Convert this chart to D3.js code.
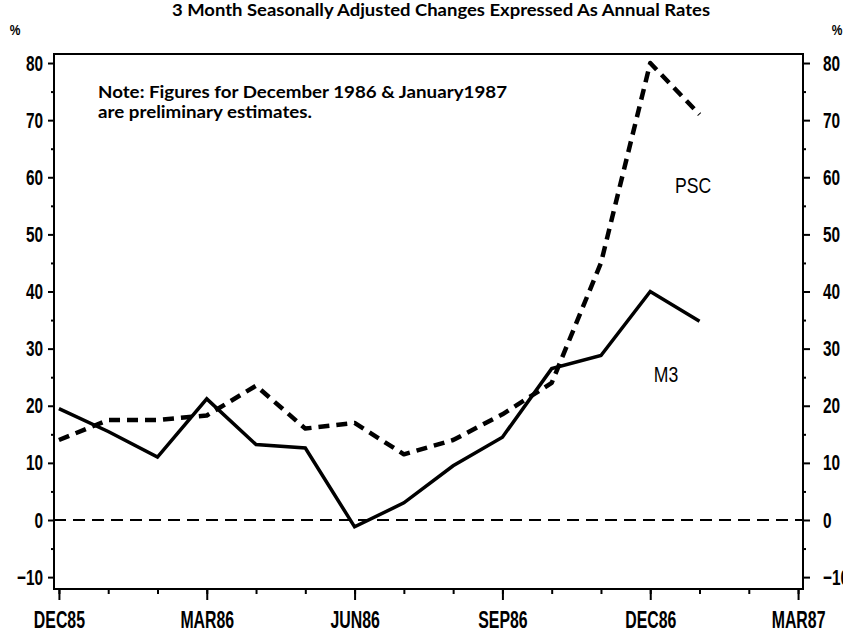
<!DOCTYPE html>
<html>
<head>
<meta charset="utf-8">
<style>
  body { margin: 0; background: #fff; }
  svg { display: block; }
  text { fill: #000; }
</style>
</head>
<body>
<div class="container"></div>
<script src="https://d3js.org/d3.v7.min.js"></script>
<script>
  // month labels, Dec 1985 .. Mar 1987
  var months = ['DEC85','JAN86','FEB86','MAR86','APR86','MAY86','JUN86','JUL86',
                'AUG86','SEP86','OCT86','NOV86','DEC86','JAN87','FEB87','MAR87'];
  var quarterIdx = [0, 3, 6, 9, 12, 15];
  var m3  = [19.5, 15.5, 11, 21.2, 13.2, 12.6, -1.2, 3, 9.5, 14.5, 26.5, 28.8, 40, 34.8];
  var psc = [14, 17.5, 17.5, 18.3, 23.5, 16, 17, 11.5, 14, 18.5, 24, 45, 80, 71];
  var yMajor = [-10, 0, 10, 20, 30, 40, 50, 60, 70, 80];
  var yMinor = [-5, 5, 15, 25, 35, 45, 55, 65, 75];

  var W = 843, H = 634,
      L = 54, R = 803, T = 54, B = 589;

  var svg = d3.select('.container').append('svg')
      .attr('width', W).attr('height', H);

  var x = d3.scaleLinear().domain([-0.1, 15.1]).range([L, R]);
  var y = d3.scaleLinear().domain([-12.08, 81.58]).range([B, T]);

  var font = "'Liberation Sans', Arial, sans-serif";
  var round = "Lato, 'DejaVu Sans', sans-serif";

  // squeeze a text horizontally around its own x
  function condense(sel, sx) {
    sel.each(function() {
      var t = d3.select(this);
      var x0 = +t.attr('x') || 0;
      t.attr('x', x0 / sx).attr('transform', 'scale(' + sx + ',1)');
    });
  }

  // title (top part is cut off in the original)
  svg.append('text')
      .attr('x', 441).attr('y', 16)
      .attr('text-anchor', 'middle')
      .style('font-family', round)
      .style('font-weight', 'bold')
      .style('font-size', '17px')
      .attr('textLength', 538).attr('lengthAdjust', 'spacingAndGlyphs')
      .text('3 Month Seasonally Adjusted Changes Expressed As Annual Rates');

  svg.append('text').attr('x', 15).attr('y', 35)
      .attr('text-anchor', 'middle')
      .style('font-family', font).style('font-weight', 'bold').style('font-size', '15px')
      .text('%').call(condense, 0.8);
  svg.append('text').attr('x', 837).attr('y', 35)
      .attr('text-anchor', 'middle')
      .style('font-family', font).style('font-weight', 'bold').style('font-size', '15px')
      .text('%').call(condense, 0.8);

  // left axis
  var gl = svg.append('g').attr('transform', 'translate(' + L + ',0)')
      .call(d3.axisLeft(y).tickValues(yMajor).tickSize(6).tickPadding(5).tickFormat(d3.format('d')));
  svg.append('g').attr('transform', 'translate(' + L + ',0)')
      .call(d3.axisLeft(y).tickValues(yMinor).tickSize(3).tickFormat(''));

  // right axis
  var gr = svg.append('g').attr('transform', 'translate(' + R + ',0)')
      .call(d3.axisRight(y).tickValues(yMajor).tickSize(7).tickPadding(13).tickFormat(d3.format('d')));
  svg.append('g').attr('transform', 'translate(' + R + ',0)')
      .call(d3.axisRight(y).tickValues(yMinor).tickSize(3).tickFormat(''));

  // bottom axis
  var gb = svg.append('g').attr('transform', 'translate(0,' + B + ')')
      .call(d3.axisBottom(x).tickValues(quarterIdx).tickSize(11).tickPadding(12)
        .tickFormat(function(d) { return months[d]; }));
  svg.append('g').attr('transform', 'translate(0,' + B + ')')
      .call(d3.axisBottom(x).tickValues(d3.range(months.length)).tickSize(5).tickFormat(''));

  svg.selectAll('.domain').remove();
  svg.selectAll('.tick line').attr('stroke', '#000').attr('stroke-width', 2);

  [gl, gr].forEach(function(g) {
    g.selectAll('.tick text')
        .style('font-family', font).style('font-weight', 'bold').style('font-size', '22px')
        .call(condense, 0.7);
  });
  gb.selectAll('.tick text')
      .attr('y', 23).attr('dy', '0.71em')
      .style('font-family', font).style('font-weight', 'bold').style('font-size', '23px')
      .call(condense, 0.69);

  // frame
  svg.append('rect')
      .attr('x', L).attr('y', T).attr('width', R - L).attr('height', B - T)
      .attr('fill', 'none').attr('stroke', '#000').attr('stroke-width', 2);

  // zero line
  svg.append('line')
      .attr('x1', L).attr('x2', R).attr('y1', y(0)).attr('y2', y(0))
      .attr('stroke', '#000').attr('stroke-width', 2)
      .attr('stroke-dasharray', '12,7');

  var line = d3.line()
      .x(function(d, i) { return x(i); })
      .y(function(d) { return y(d); });

  svg.append('path').datum(psc)
      .attr('d', line)
      .attr('fill', 'none').attr('stroke', '#000')
      .attr('stroke-width', 4.5).attr('stroke-dasharray', '11,7')
      .attr('stroke-linejoin', 'round');

  svg.append('path').datum(m3)
      .attr('d', line)
      .attr('fill', 'none').attr('stroke', '#000')
      .attr('stroke-width', 3.5)
      .attr('stroke-linejoin', 'miter');

  // series labels
  svg.append('text').attr('x', 693).attr('y', 193)
      .attr('text-anchor', 'middle')
      .style('font-family', font).style('font-size', '22px')
      .text('PSC').call(condense, 0.8);
  svg.append('text').attr('x', 666).attr('y', 382)
      .attr('text-anchor', 'middle')
      .style('font-family', font).style('font-size', '22px')
      .text('M3').call(condense, 0.8);

  // note
  var note = svg.append('text')
      .style('font-family', round)
      .style('font-weight', 'bold')
      .style('font-size', '17px');
  note.append('tspan').attr('x', 98).attr('y', 98)
      .attr('textLength', 409).attr('lengthAdjust', 'spacingAndGlyphs')
      .text('Note: Figures for December 1986 & January1987');
  note.append('tspan').attr('x', 98).attr('y', 118)
      .attr('textLength', 214).attr('lengthAdjust', 'spacingAndGlyphs')
      .text('are preliminary estimates.');
</script>
</body>
</html>
